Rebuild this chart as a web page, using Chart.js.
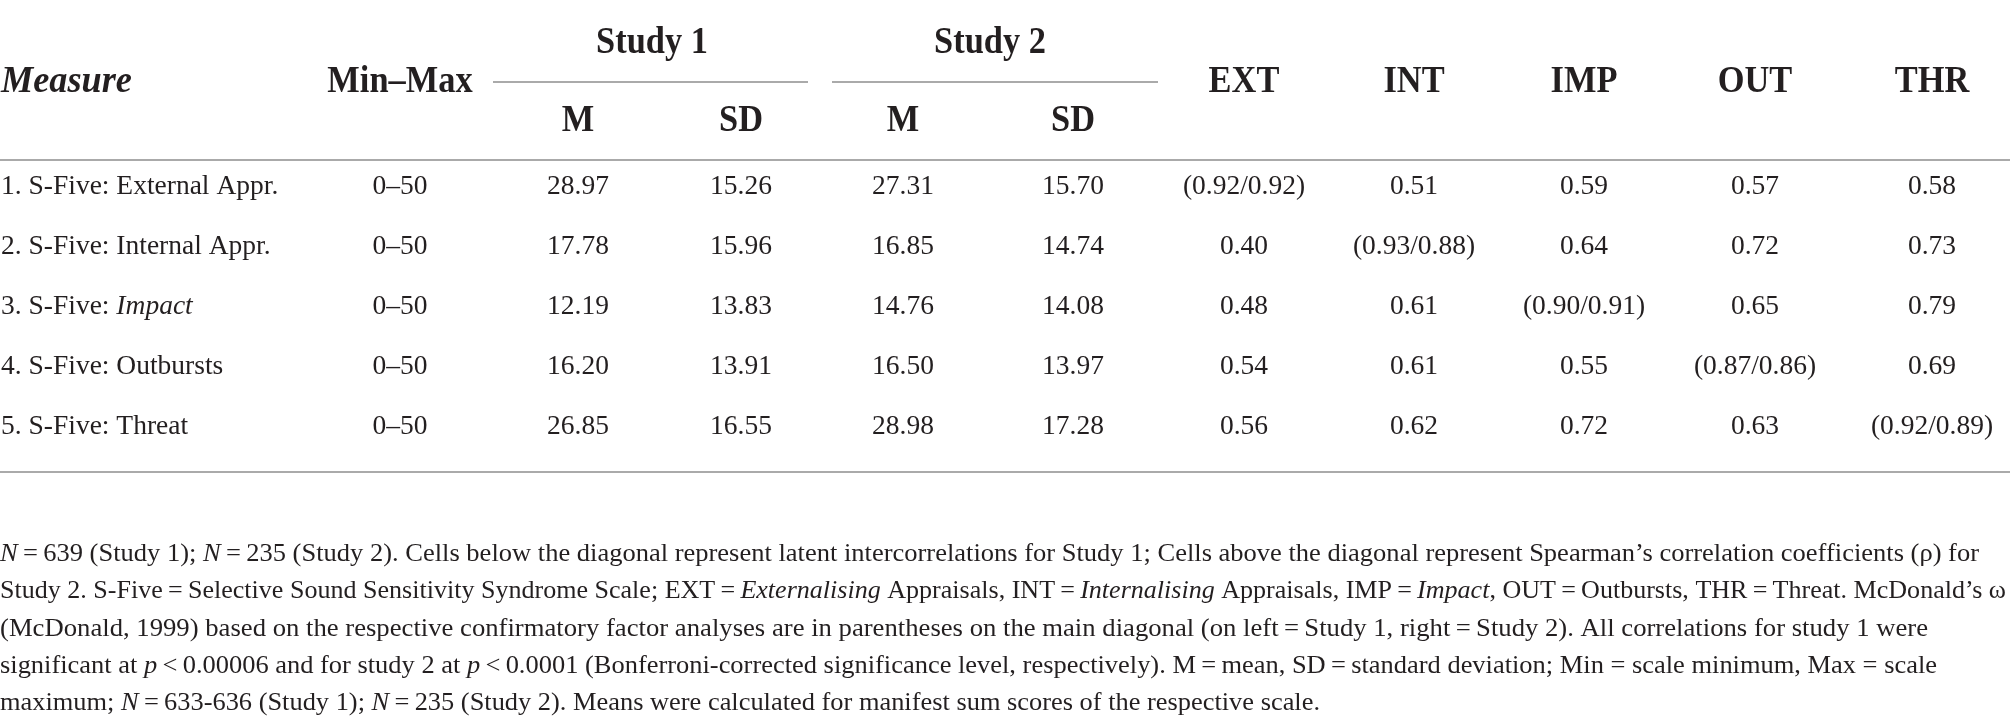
<!DOCTYPE html>
<html>
<head>
<meta charset="utf-8">
<script src="https://cdn.jsdelivr.net/npm/chart.js@4.4.1/dist/chart.umd.min.js"></script>
<style>
html, body { margin: 0; padding: 0; background: #fff; }
#wrap { width: 2010px; height: 724px; }
</style>
</head>
<body>
<div id="wrap"><canvas id="tableChart" width="2010" height="724"></canvas></div>
<script>

// ---- table data (text wrapped in *...* is italic) ----
const measures = [
    "1. S-Five: External Appr.",
    "2. S-Five: Internal Appr.",
    "3. S-Five: *Impact*",
    "4. S-Five: Outbursts",
    "5. S-Five: Threat"
];

const ranges = ["0–50", "0–50", "0–50", "0–50", "0–50"];

const study1Mean = [28.97, 17.78, 12.19, 16.20, 26.85];
const study1SD   = [15.26, 15.96, 13.83, 13.91, 16.55];
const study2Mean = [27.31, 16.85, 14.76, 16.50, 28.98];
const study2SD   = [15.70, 14.74, 14.08, 13.97, 17.28];

const scaleCodes = ["EXT", "INT", "IMP", "OUT", "THR"];

// below diagonal: latent correlations Study 1, above: Spearman Study 2
const correlations = [
    [null, 0.51, 0.59, 0.57, 0.58],
    [0.40, null, 0.64, 0.72, 0.73],
    [0.48, 0.61, null, 0.65, 0.79],
    [0.54, 0.61, 0.55, null, 0.69],
    [0.56, 0.62, 0.72, 0.63, null]
];

const omegaStudy1 = [0.92, 0.93, 0.90, 0.87, 0.92];
const omegaStudy2 = [0.92, 0.88, 0.91, 0.86, 0.89];

const footnote = [
    "*N*\u2009=\u2009639 (Study 1); *N*\u2009=\u2009235 (Study 2). Cells below the diagonal represent latent intercorrelations for Study 1; Cells above the diagonal represent Spearman’s correlation coefficients (ρ) for",
    "Study 2. S-Five\u2009=\u2009Selective Sound Sensitivity Syndrome Scale; EXT\u2009=\u2009*Externalising* Appraisals, INT\u2009=\u2009*Internalising* Appraisals, IMP\u2009=\u2009*Impact*, OUT\u2009=\u2009Outbursts, THR\u2009=\u2009Threat. McDonald’s ω",
    "(McDonald, 1999) based on the respective confirmatory factor analyses are in parentheses on the main diagonal (on left\u2009=\u2009Study 1, right\u2009=\u2009Study 2). All correlations for study 1 were",
    "significant at *p*\u2009<\u20090.00006 and for study 2 at *p*\u2009<\u20090.0001 (Bonferroni-corrected significance level, respectively). M\u2009=\u2009mean, SD\u2009=\u2009standard deviation; Min = scale minimum, Max = scale",
    "maximum; *N*\u2009=\u2009633-636 (Study 1); *N*\u2009=\u2009235 (Study 2). Means were calculated for manifest sum scores of the respective scale."
];

// ---- layout ----
const FAMILY = "'Liberation Serif', 'DejaVu Serif', serif";
const INK = "#231f20";
const RULE = "#aaaaaa";

const COL = {
    measure: 1, minmax: 400,
    m1: 578, sd1: 741, m2: 903, sd2: 1073,
    codes: [1244, 1414, 1584, 1755, 1932]
};

const ROW_BASE = 194;
const ROW_GAP = 60;
const rowY = i => ROW_BASE + i * ROW_GAP;

// measured right ends of the (ragged) footnote lines
const FOOT_WIDTH = [1979, 2006, 1928, 1937, 1320];
const FOOT_BASE = 561;
const FOOT_GAP = 37.3;

function fmt(v) {
    return v.toFixed(2);
}

function column(xPos, texts, align) {
    return {
        data: texts.map((t, i) => ({ x: xPos, y: rowY(i) })),
        cellText: texts,
        align: align || "center",
        pointRadius: 0,
        showLine: false
    };
}

const datasets = [
    column(COL.measure, measures, "left"),
    column(COL.minmax, ranges),
    column(COL.m1, study1Mean.map(fmt)),
    column(COL.sd1, study1SD.map(fmt)),
    column(COL.m2, study2Mean.map(fmt)),
    column(COL.sd2, study2SD.map(fmt))
];

scaleCodes.forEach((code, c) => {
    const texts = correlations.map((row, i) =>
        i === c
            ? "(" + fmt(omegaStudy1[i]) + "/" + fmt(omegaStudy2[i]) + ")"
            : fmt(row[c])
    );
    datasets.push(column(COL.codes[c], texts));
});

// ---- rich text helper ----
function parts(str) {
    return str.split("*").map((t, k) => ({ text: t, italic: k % 2 === 1 }))
        .filter(p => p.text.length);
}

function fontOf(size, bold, italic) {
    return (italic ? "italic " : "") + (bold ? "bold " : "") + size + "px " + FAMILY;
}

function richWidth(ctx, str, size, bold, italic) {
    let w = 0;
    parts(str).forEach(p => {
        ctx.font = fontOf(size, bold, p.italic || italic);
        w += ctx.measureText(p.text).width;
    });
    return w;
}

function drawRich(ctx, str, x, y, opts) {
    const size = opts.size;
    const bold = !!opts.bold;
    const italic = !!opts.italic;
    let sx = opts.scaleX || 1;
    const raw = richWidth(ctx, str, size, bold, italic);
    if (opts.fitWidth) sx = opts.fitWidth / raw;
    const w = raw * sx;
    let x0 = x;
    if (opts.align === "center") x0 = x - w / 2;
    if (opts.align === "right") x0 = x - w;
    ctx.save();
    ctx.translate(x0, y);
    ctx.scale(sx, 1);
    ctx.fillStyle = INK;
    ctx.textBaseline = "alphabetic";
    ctx.textAlign = "left";
    let cx = 0;
    parts(str).forEach(p => {
        ctx.font = fontOf(size, bold, p.italic || italic);
        ctx.fillText(p.text, cx, 0);
        cx += ctx.measureText(p.text).width;
    });
    ctx.restore();
}

const tablePlugin = {
    id: "tablePlugin",
    afterDatasetsDraw(chart) {
        const ctx = chart.ctx;
        const xs = chart.scales.x;
        const ys = chart.scales.y;
        const X = v => xs.getPixelForValue(v);
        const Y = v => ys.getPixelForValue(v);

        // rules: [x start, x end, y]
        ctx.save();
        ctx.strokeStyle = RULE;
        ctx.lineWidth = 2;
        [[493, 808, 82], [832, 1158, 82], [0, 2010, 160], [0, 2010, 472]].forEach(r => {
            ctx.beginPath();
            ctx.moveTo(X(r[0]), Y(r[2]));
            ctx.lineTo(X(r[1]), Y(r[2]));
            ctx.stroke();
        });
        ctx.restore();

        // header
        const H = { size: 37, bold: true, scaleX: 0.93, align: "center" };
        drawRich(ctx, "Measure", X(1), Y(92), { size: 37, bold: true, italic: true, scaleX: 0.98, align: "left" });
        drawRich(ctx, "Min–Max", X(COL.minmax), Y(92), H);
        drawRich(ctx, "Study 1", X(652), Y(53), H);
        drawRich(ctx, "Study 2", X(990), Y(53), H);
        [COL.m1, COL.m2].forEach(x => drawRich(ctx, "M", X(x), Y(131), H));
        [COL.sd1, COL.sd2].forEach(x => drawRich(ctx, "SD", X(x), Y(131), H));
        scaleCodes.forEach((code, c) => drawRich(ctx, code, X(COL.codes[c]), Y(92), H));

        // body cells, placed at each point the library laid out
        chart.data.datasets.forEach((ds, d) => {
            const meta = chart.getDatasetMeta(d);
            meta.data.forEach((el, i) => {
                drawRich(ctx, ds.cellText[i], el.x, el.y, { size: 27.5, align: ds.align });
            });
        });

        // footnote, condensed to the measured line lengths
        footnote.forEach((line, i) => {
            drawRich(ctx, line, X(0), Y(FOOT_BASE + i * FOOT_GAP),
                { size: 26, fitWidth: FOOT_WIDTH[i], align: "left" });
        });
    }
};

new Chart(
    document.getElementById("tableChart"),
    {
        type: "scatter",
        data: { datasets: datasets },
        options: {
            responsive: false,
            animation: false,
            devicePixelRatio: 1,
            layout: { padding: 0 },
            scales: {
                x: { type: "linear", min: 0, max: 2010, display: false },
                y: { type: "linear", min: 0, max: 724, reverse: true, display: false }
            },
            plugins: {
                legend: { display: false },
                tooltip: { enabled: false }
            }
        },
        plugins: [tablePlugin]
    }
);

</script>
</body>
</html>
